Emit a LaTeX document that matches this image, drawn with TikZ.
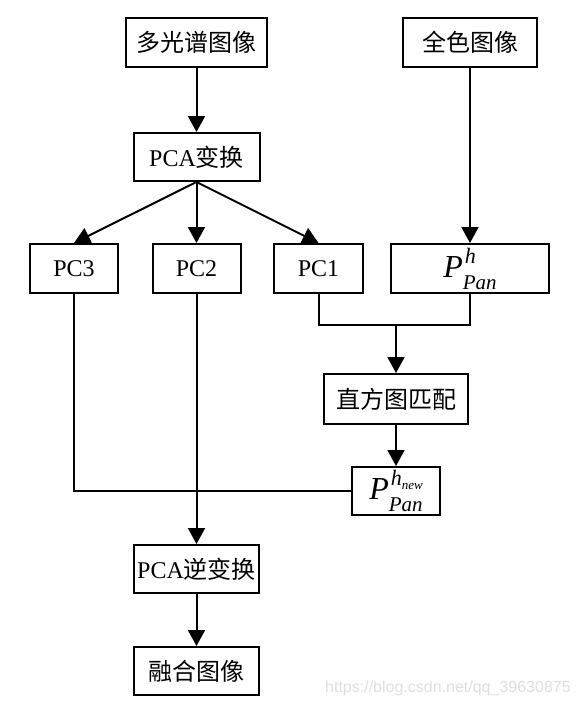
\documentclass[tikz,border=0pt]{standalone}
\usepackage{fontspec}
\setmainfont{Liberation Serif}
\newfontfamily\cjk{Noto Sans CJK SC}
\newfontfamily\wmfont{Liberation Sans}
\usetikzlibrary{arrows.meta}
\newcommand{\PPan}[1]{\fontsize{32}{34}\selectfont\itshape P\makebox[0pt][l]{\kern2pt\raisebox{14pt}{\fontsize{22}{22}\selectfont #1}}\raisebox{-12pt}{\fontsize{21}{21}\selectfont Pan}}
\begin{document}
\begin{tikzpicture}[x=1pt,y=-1pt,
  box/.style={draw, line width=2pt, inner sep=0pt, minimum height=49pt, font=\fontsize{24}{28}\selectfont},
  arr/.style={line width=2pt, -{Triangle[length=16pt,width=17pt]}},
  ln/.style={line width=2pt}]
\useasboundingbox (0,0) rectangle (578,705);
\fill[white] (0,0) rectangle (578,705);
\node[box, minimum width=141pt] (ms) at (196.5,42.5) {\cjk 多光谱图像};
\node[box, minimum width=134pt] (pan) at (470,42.5) {\cjk 全色图像};
\node[box, minimum width=126pt, minimum height=48pt] (pca) at (196.5,157) {PCA{\cjk 变换}};
\node[box, minimum width=88pt] (pc3) at (74,268.5) {PC3};
\node[box, minimum width=88pt] (pc2) at (196.5,268.5) {PC2};
\node[box, minimum width=89pt] (pc1) at (318.5,268.5) {PC1};
\node[box, minimum width=158pt] (ph) at (470,268.5) {\PPan{h}};
\node[box, minimum width=144pt, minimum height=50pt] (hm) at (396,399) {\cjk 直方图匹配};
\node[box, minimum width=88pt, minimum height=48pt] (pnew) at (396,491) {\PPan{h\raisebox{-4pt}{\fontsize{13}{13}\selectfont new}}};
\node[box, minimum width=125pt, minimum height=48pt] (inv) at (196.5,569) {PCA{\cjk 逆变换}};
\node[box, minimum width=125pt, minimum height=48pt] (fuse) at (196.5,671) {\cjk 融合图像};
\coordinate (j) at (396,325);
\draw[arr] (ms) -- (pca);
\draw[arr] (pca.south) -- (pc3.north);
\draw[arr] (pca.south) -- (pc2.north);
\draw[arr] (pca.south) -- (pc1.north);
\draw[arr] (pan) -- (ph);
\draw[ln] (pc1.south) |- (j) -| (ph.south);
\draw[arr] (j) -- (hm.north);
\draw[arr] (hm) -- (pnew);
\draw[ln] (pc3.south) |- (pnew.west);
\draw[arr] (pc2) -- (inv);
\draw[arr] (inv) -- (fuse);
\node[font=\wmfont\fontsize{16}{16}\selectfont, text=gray!25, anchor=base west, inner sep=0pt] (wm) at (325,692) {https://blog.csdn.net/qq\_39630875};
\end{tikzpicture}
\end{document}
